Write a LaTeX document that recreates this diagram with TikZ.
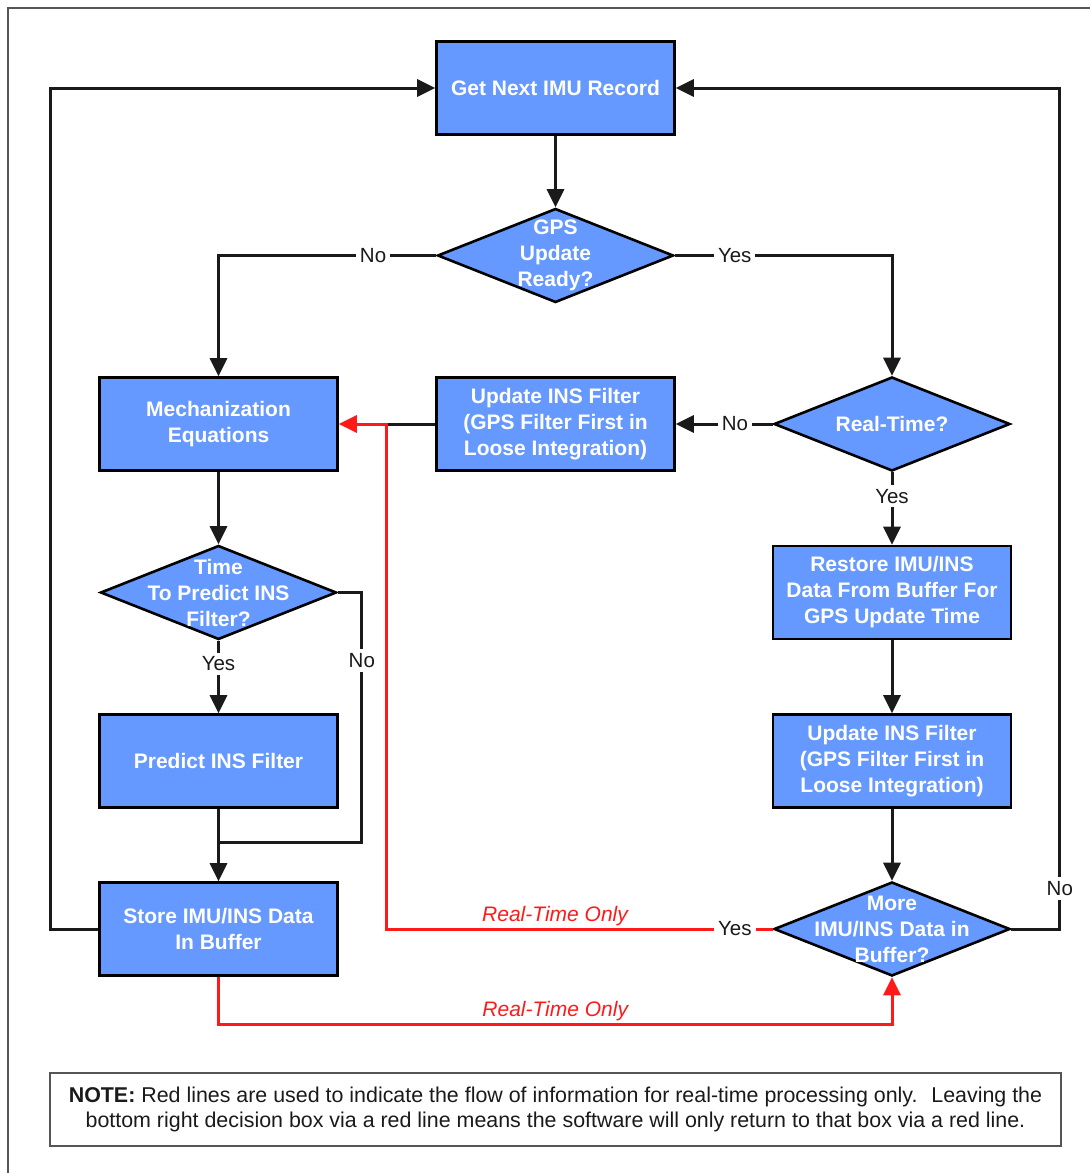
\documentclass[tikz,border=0pt]{standalone}
\usepackage{fontspec}
\setmainfont{Liberation Sans}
\usetikzlibrary{shapes.geometric,arrows.meta}
\definecolor{boxblue}{HTML}{6699FF}
\definecolor{ink}{HTML}{1A1A1A}
\definecolor{flowred}{HTML}{FF1A1A}
\definecolor{framegray}{HTML}{555555}

\begin{document}
\begin{tikzpicture}[x=1pt,y=-1pt,
  procbox/.style={rectangle, draw=black, line width=2.6pt, fill=boxblue,
    minimum width=238pt, minimum height=93pt, inner sep=0pt, align=center,
    text=white, font=\bfseries\fontsize{21}{26}\selectfont},
  decision/.style={diamond, draw=black, line width=2.6pt, fill=boxblue,
    minimum width=236pt, minimum height=94pt, inner sep=0pt},
  dtext/.style={align=center, text=white, inner sep=0pt,
    font=\bfseries\fontsize{21}{26}\selectfont},
  wire/.style={draw=ink, line width=3pt},
  flow/.style={wire, -{Triangle[length=18pt,width=17pt]}},
  redflow/.style={draw=flowred, line width=3pt, -{Triangle[length=18pt,width=17pt]}},
  choice/.style={fill=white, text=ink, inner sep=4pt,
    font=\fontsize{20.5}{24}\selectfont},
  rtonly/.style={text=flowred, inner sep=2pt, anchor=south,
    font=\itshape\fontsize{21}{24}\selectfont},
]
\useasboundingbox (0,0) rectangle (1090,1173);
\draw[framegray, line width=1.5pt] (8,1173) -- (8,8) -- (1090,8);

% process boxes and decisions
\node[procbox] (get) at (555.5,88) {Get Next IMU Record};
\node[decision, label={[dtext]center:{GPS\\Update\\Ready?}}] (gps) at (555.5,255.5) {};
\node[procbox] (mech) at (218.5,424) {Mechanization\\Equations};
\node[procbox] (upd1) at (555.5,424) {Update INS Filter\\(GPS Filter First in\\Loose Integration)};
\node[decision, label={[dtext]center:{Real-Time?}}] (rt) at (892,424) {};
\node[decision, label={[dtext]center:{Time\\To Predict INS\\Filter?}}] (tpred) at (218.5,592.5) {};
\node[procbox] (restore) at (892,592.5) {Restore IMU/INS\\Data From Buffer For\\GPS Update Time};
\node[procbox] (pred) at (218.5,761) {Predict INS Filter};
\node[procbox] (upd2) at (892,761) {Update INS Filter\\(GPS Filter First in\\Loose Integration)};
\node[procbox] (store) at (218.5,929) {Store IMU/INS Data\\In Buffer};
\node[decision, label={[dtext]center:{More\\IMU/INS Data in\\Buffer?}}] (more) at (892,929) {};
\coordinate (merge) at (218.5,842);

% black flow
\draw[flow] (get.south) -- (gps.north);
\draw[flow] (gps.west) -| node[choice,pos=0.145]{No} (mech.north);
\draw[flow] (gps.east) -| node[choice,pos=0.138]{Yes} (rt.north);
\draw[flow] (rt.west) -- node[choice,pos=0.39]{No} (upd1.east);
\draw[flow] (rt.south) -- node[choice,pos=0.33]{Yes} (restore.north);
\draw[flow] (restore.south) -- (upd2.north);
\draw[flow] (upd2.south) -- (more.north);
\draw[flow] (mech.south) -- (tpred.north);
\draw[flow] (tpred.south) -- node[choice,pos=0.32]{Yes} (pred.north);
\draw[flow] (pred.south) -- (store.north);
\draw[wire] (tpred.east) -- ++(24,0) |- node[choice,pos=0.136]{No} (merge);
\draw[flow] (store.west) -- ++(-48,0) |- (get.west);
\draw[flow] (more.east) -- ++(48.5,0) |- node[choice,pos=0.024]{No} (get.east);
\draw[wire] (upd1.west) -- ([xshift=48pt]mech.east);

% red real-time flow
\draw[redflow] (more.west) -| node[choice,pos=0.049]{Yes}
  node[rtonly,pos=0.282]{Real-Time Only} ([xshift=48pt]mech.east) -- (mech.east);
\draw[redflow] (store.south) -- ++(0,48) -| node[rtonly,pos=0.25]{Real-Time Only} (more.south);

% note
\node[draw=framegray, line width=1.8pt, minimum width=1011pt, minimum height=73pt,
  align=center, text=ink, inner sep=0pt, font=\fontsize{21.4}{25}\selectfont]
  (note) at (555.5,1109.5)
  {\textbf{NOTE:} Red lines are used to indicate the flow of information for real-time processing only.~ Leaving the\\
   bottom right decision box via a red line means the software will only return to that box via a red line.};
\end{tikzpicture}
\end{document}
